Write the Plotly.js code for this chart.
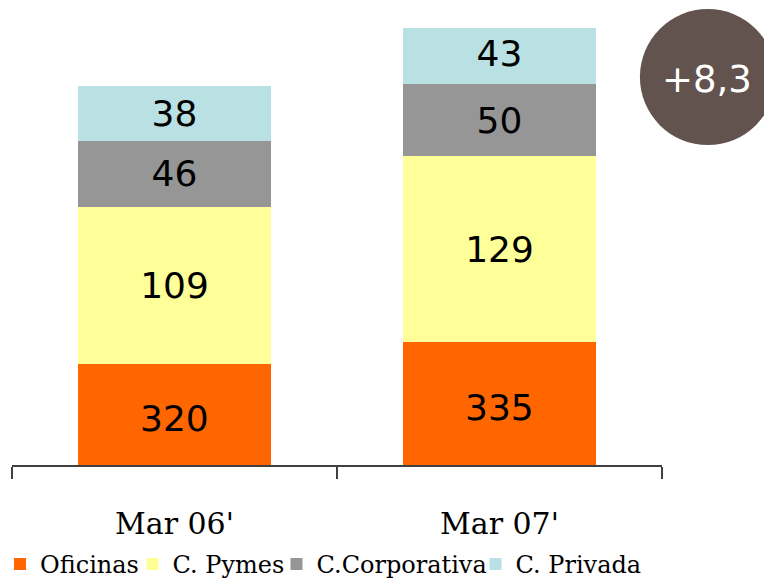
<!DOCTYPE html>
<html>
<head>
<meta charset="utf-8">
<script src="https://cdn.plot.ly/plotly-3.0.1.min.js"></script>
<style>html,body{margin:0;padding:0;background:#fff;}#chart{width:764px;height:578px;}</style>
</head>
<body>
<div id="chart"></div>
<script>
const categories = ["Mar 06'", "Mar 07'"];
const oficinas = [320, 335];
const pymes = [109, 129];
const corporativa = [46, 50];
const privada = [38, 43];
const seriesNames = ["Oficinas", "C. Pymes", "C.Corporativa", "C. Privada"];
const seriesColors = ["#FF6600", "#FFFF99", "#969696", "#B9E0E3"];
const growthLabel = "+8,3";
const axisMin = 250, axisMax = 553;

const valueFont = {family: 'DejaVu Sans, sans-serif', size: 36, color: '#000'};
const seriesValues = [oficinas, pymes, corporativa, privada];
const legendIds = ['legend', 'legend2', 'legend3', 'legend4'];
const legendX = [-0.002, 0.1735, 0.3619, 0.6224];

const traces = seriesValues.map((vals, i) => ({
  type: 'bar',
  name: seriesNames[i],
  legend: legendIds[i],
  x: categories,
  y: vals,
  text: vals.map(String),
  textposition: i === 0 ? 'none' : 'inside',
  insidetextanchor: 'middle',
  constraintext: 'none',
  textangle: 0,
  textfont: valueFont,
  marker: {color: seriesColors[i], line: {width: 0}},
  hoverinfo: 'skip'
}));

const legendBase = {
  orientation: 'h', xref: 'container', yref: 'container', y: 0.0235, yanchor: 'middle', xanchor: 'left',
  font: {family: 'DejaVu Serif, serif', size: 24, color: '#000'},
  itemclick: false, itemdoubleclick: false, bgcolor: 'rgba(0,0,0,0)', borderwidth: 0
};

// labels of the bottom segment, centred on its visible part (axis starts at axisMin)
const bottomLabels = categories.map((c, k) => ({
  x: c, y: (axisMin + oficinas[k]) / 2, xref: 'x', yref: 'y',
  text: String(oficinas[k]), showarrow: false, yshift: -4,
  xanchor: 'center', yanchor: 'middle', font: valueFont
}));

const layout = {
  width: 764, height: 578,
  margin: {l: 12, r: 102, t: 28, b: 113},
  paper_bgcolor: '#fff', plot_bgcolor: '#fff',
  barmode: 'stack',
  bargap: 0.406,
  showlegend: true,
  xaxis: {
    type: 'category', range: [-0.5, 1.5],
    tickson: 'boundaries', ticks: 'outside', ticklen: 12, tickwidth: 1.5, tickcolor: '#404040',
    showline: true, linecolor: '#404040', linewidth: 1.5,
    showgrid: false, zeroline: false,
    ticklabelstandoff: 31,
    tickfont: {family: 'DejaVu Serif, serif', size: 30, color: '#000'},
    fixedrange: true
  },
  yaxis: {
    range: [axisMin, axisMax], visible: false, showgrid: false, zeroline: false, fixedrange: true
  },
  shapes: [{
    type: 'circle', xref: 'paper', yref: 'paper',
    x0: 0.966, x1: 1.175, y0: 0.732, y1: 1.0435,
    fillcolor: '#62534E', line: {width: 0}, layer: 'above'
  }],
  annotations: bottomLabels.concat([{
    xref: 'paper', yref: 'paper', x: 1.069, y: 0.882, xanchor: 'center', yanchor: 'middle',
    text: growthLabel, showarrow: false,
    font: {family: 'DejaVu Sans, sans-serif', size: 37, color: '#fff'}
  }])
};
legendIds.forEach((id, i) => { layout[id] = Object.assign({}, legendBase, {x: legendX[i]}); });

Plotly.newPlot('chart', traces, layout, {displayModeBar: false, staticPlot: true});
</script>
</body>
</html>
